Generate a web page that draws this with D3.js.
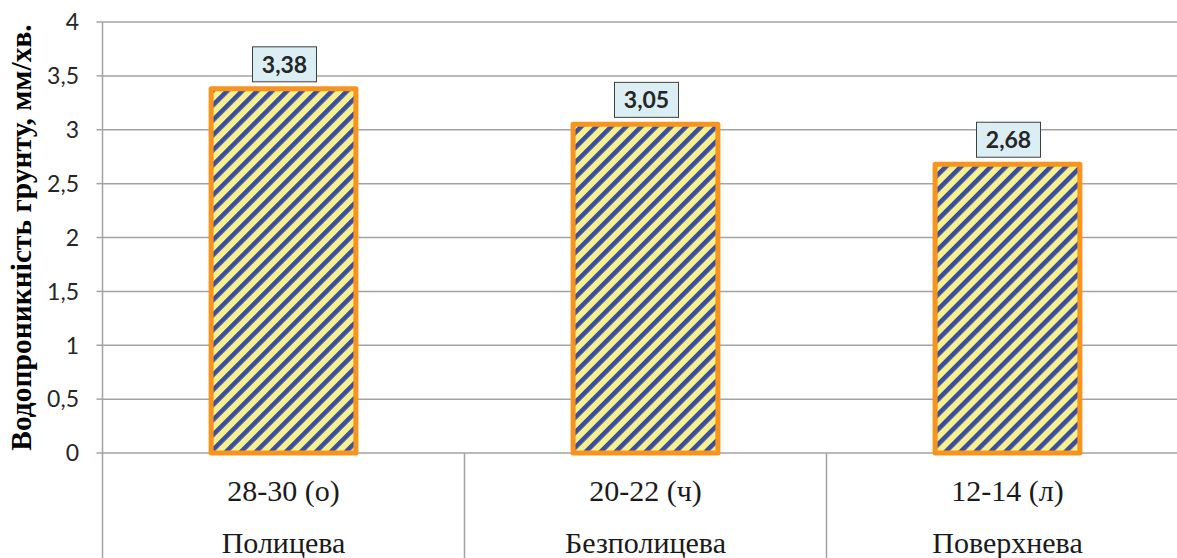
<!DOCTYPE html>
<html>
<head>
<meta charset="utf-8">
<script src="https://cdn.jsdelivr.net/npm/d3@7"></script>
<style>
  html, body { margin: 0; padding: 0; background: #fff; }
  svg { display: block; }
</style>
</head>
<body>
<svg id="chart" width="1177" height="558"></svg>
<script>
// Water permeability of soil by tillage type
const depths = ["28-30 (о)", "20-22 (ч)", "12-14 (л)"];
const tillage = ["Полицева", "Безполицева", "Поверхнева"];
const permeability = [3.38, 3.05, 2.68];
const yTicks = [0, 0.5, 1, 1.5, 2, 2.5, 3, 3.5, 4];
const yTitle = "Водопроникність грунту, мм/хв.";

const W = 1177, H = 558;
const plot = { left: 102.5, top: 22, bottom: 453, bandWidth: 362 };

const svg = d3.select("#chart");
const fmt = v => String(v).replace(".", ",");

const x = d3.scaleBand()
  .domain(d3.range(depths.length))
  .range([plot.left, plot.left + plot.bandWidth * depths.length])
  .padding(0);

const y = d3.scaleLinear().domain([0, 4]).range([plot.bottom, plot.top]);

// stripe fill: blue diagonal bands on pale yellow
const defs = svg.append("defs");
const pat = defs.append("pattern")
  .attr("id", "stripes")
  .attr("patternUnits", "userSpaceOnUse")
  .attr("width", 10.6).attr("height", 10.6)
  .attr("patternTransform", "rotate(45)");
pat.append("rect").attr("width", 10.6).attr("height", 10.6).attr("fill", "#f6f08e");
pat.append("rect").attr("width", 4.6).attr("height", 10.6).attr("fill", "#3a4d9f");

const gridColor = "#a3a3a3";

// horizontal gridlines
svg.append("g").selectAll("line")
  .data(yTicks)
  .join("line")
  .attr("x1", plot.left)
  .attr("x2", W)
  .attr("y1", d => y(d)).attr("y2", d => y(d))
  .attr("stroke", gridColor).attr("stroke-width", 1.5);

// left tick marks
svg.append("g").selectAll("line")
  .data(yTicks)
  .join("line")
  .attr("x1", plot.left - 6).attr("x2", plot.left)
  .attr("y1", d => y(d)).attr("y2", d => y(d))
  .attr("stroke", gridColor).attr("stroke-width", 1.5);

// vertical axis and category separators running to the bottom edge
svg.append("line")
  .attr("x1", plot.left).attr("x2", plot.left)
  .attr("y1", plot.top).attr("y2", H)
  .attr("stroke", gridColor).attr("stroke-width", 1.5);

svg.append("g").selectAll("line")
  .data(d3.range(1, depths.length))
  .join("line")
  .attr("x1", i => x(i)).attr("x2", i => x(i))
  .attr("y1", plot.bottom).attr("y2", H)
  .attr("stroke", gridColor).attr("stroke-width", 1.5);

// y tick labels
svg.append("g").selectAll("text")
  .data(yTicks)
  .join("text")
  .attr("x", 79)
  .attr("y", d => y(d))
  .attr("dy", "0.36em")
  .attr("text-anchor", "end")
  .attr("font-family", "Lato, 'Open Sans', sans-serif")
  .attr("font-size", 23)
  .attr("fill", "#262626")
  .text(fmt);

// bars
const barW = x.bandwidth() * 0.4;
const cx = i => x(i) + x.bandwidth() / 2;

svg.append("g").selectAll("rect")
  .data(permeability)
  .join("rect")
  .attr("x", (d, i) => cx(i) - barW / 2)
  .attr("y", d => y(d))
  .attr("width", barW)
  .attr("height", d => y(0) - y(d))
  .attr("fill", "url(#stripes)")
  .attr("stroke", "#f7941e")
  .attr("stroke-width", 5)
  .attr("stroke-linejoin", "round");

// value labels in boxes
const labels = svg.append("g").selectAll("g")
  .data(permeability)
  .join("g")
  .attr("transform", (d, i) => `translate(${cx(i) + 1},${y(d) - 7})`);

const boxW = 64, boxH = 35;
labels.append("rect")
  .attr("x", -boxW / 2).attr("y", -boxH)
  .attr("width", boxW).attr("height", boxH)
  .attr("fill", "#daeef3")
  .attr("stroke", "#3f3f3f")
  .attr("stroke-width", 1);

labels.append("text")
  .attr("x", 0).attr("y", -boxH / 2)
  .attr("dy", "0.36em")
  .attr("text-anchor", "middle")
  .attr("font-family", "Lato, 'Open Sans', sans-serif")
  .attr("font-weight", "bold")
  .attr("font-size", 23)
  .attr("fill", "#262626")
  .text(fmt);

// category labels: depth row and tillage row
svg.append("g").selectAll("text")
  .data(depths)
  .join("text")
  .attr("x", (d, i) => cx(i))
  .attr("y", 501)
  .attr("text-anchor", "middle")
  .attr("font-family", "'Liberation Serif', 'Times New Roman', serif")
  .attr("font-size", 30)
  .attr("fill", "#1a1a1a")
  .text(d => d);

svg.append("g").selectAll("text")
  .data(tillage)
  .join("text")
  .attr("x", (d, i) => cx(i))
  .attr("y", 553)
  .attr("text-anchor", "middle")
  .attr("font-family", "'Liberation Serif', 'Times New Roman', serif")
  .attr("font-size", 30)
  .attr("fill", "#1a1a1a")
  .text(d => d);

// y axis title
svg.append("text")
  .attr("transform", `translate(31,${(plot.top + plot.bottom) / 2}) rotate(-90)`)
  .attr("text-anchor", "middle")
  .attr("font-family", "'Liberation Serif', 'Times New Roman', serif")
  .attr("font-weight", "bold")
  .attr("font-size", 29.5)
  .attr("fill", "#000")
  .text(yTitle);
</script>
</body>
</html>
